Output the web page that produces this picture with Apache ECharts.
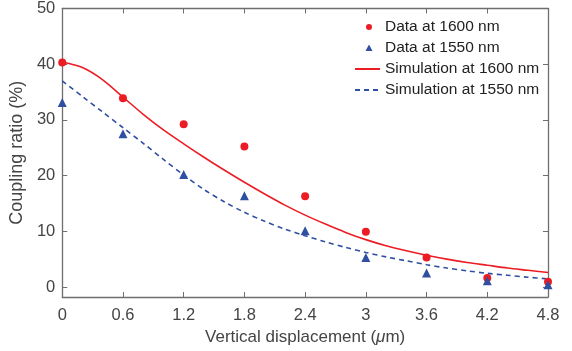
<!DOCTYPE html>
<html>
<head>
<meta charset="utf-8">
<script src="https://cdn.jsdelivr.net/npm/echarts@6/dist/echarts.min.js"></script>
<style>
html,body{margin:0;padding:0;background:#fff;}
#chart{width:572px;height:351px;}
</style>
</head>
<body>
<div id="chart"></div>
<script>
const xTicks = [0, 0.6, 1.2, 1.8, 2.4, 3, 3.6, 4.2, 4.8];
const yTicks = [0, 10, 20, 30, 40, 50];
const dataX = [0, 0.6, 1.2, 1.8, 2.4, 3.0, 3.6, 4.2, 4.8];
const data1600 = [40.3, 33.9, 29.2, 25.2, 16.3, 9.9, 5.3, 1.6, 0.95];
const data1550 = [33.1, 27.5, 20.2, 16.4, 10.1, 5.3, 2.5, 1.1, 0.4];
const simX = [0, 0.2, 0.4, 0.6, 0.8, 1.0, 1.2, 1.4, 1.6, 1.8, 2.0, 2.2, 2.4, 2.6, 2.8, 3.0, 3.2, 3.4, 3.6, 3.8, 4.0, 4.2, 4.4, 4.6, 4.8];
const sim1600 = [40.4, 39.4, 37.2, 34.1, 31.0, 28.2, 25.7, 23.3, 21.0, 18.8, 16.7, 14.7, 12.9, 11.3, 9.8, 8.5, 7.4, 6.5, 5.7, 5.0, 4.4, 3.9, 3.4, 3.0, 2.6];
const sim1550 = [37.0, 34.2, 31.4, 28.6, 25.8, 22.9, 20.1, 17.5, 15.3, 13.4, 11.8, 10.4, 9.2, 8.1, 7.1, 6.2, 5.4, 4.7, 4.0, 3.4, 2.9, 2.45, 2.1, 1.75, 1.45];
const seriesNames = ['Data at 1600 nm', 'Data at 1550 nm', 'Simulation at 1600 nm', 'Simulation at 1550 nm'];

const RED = '#ec1c24';
const BLUE = '#2f4fa0';
const FONT = 'Arial, "Liberation Sans", sans-serif';
const TXT = '#444444';
const AX = '#6e6e6e';

const zip = (xs, ys) => xs.map((x, i) => [x, ys[i]]);

const chart = echarts.init(document.getElementById('chart'), null, {renderer: 'canvas'});

const xBase = {
  type: 'value', min: 0, max: 4.8, interval: 0.6,
  axisLine: {show: true, onZero: false, lineStyle: {color: AX, width: 1.3}},
  axisTick: {show: true, inside: true, length: 5, lineStyle: {color: AX}, customValues: xTicks},
  splitLine: {show: false}
};
const yBase = {
  type: 'value', min: -1.8, max: 50,
  axisLine: {show: true, onZero: false, lineStyle: {color: AX, width: 1.3}},
  axisTick: {show: true, inside: true, length: 5, lineStyle: {color: AX}, customValues: yTicks},
  splitLine: {show: false}
};

const hiddenSym = {opacity: 0};

const option = {
  animation: false,
  backgroundColor: '#fff',
  textStyle: {fontFamily: FONT},
  grid: {left: 60, right: 24, top: 8, bottom: 54, containLabel: false},
  legend: {
    orient: 'vertical', left: 354, top: 19, padding: 0,
    itemWidth: 25, itemHeight: 14, itemGap: 5,
    textStyle: {fontFamily: FONT, fontSize: 15.5, color: '#222'},
    data: [
      {name: seriesNames[0], icon: 'path://M0 0 M25 14 M11 7 A3 3 0 1 1 17 7 A3 3 0 1 1 11 7 Z'},
      {name: seriesNames[1], icon: 'path://M0 0 M25 14 M14 3.5 L17.5 10 L10.5 10 Z'},
      {name: seriesNames[2], itemStyle: hiddenSym},
      {name: seriesNames[3], itemStyle: hiddenSym}
    ]
  },
  xAxis: [
    Object.assign({}, xBase, {
      position: 'bottom',
      axisLabel: {show: true, margin: 10, fontSize: 16.5, color: TXT, fontFamily: FONT, customValues: xTicks,
        formatter: v => String(Math.round(v * 10) / 10)},
      name: '{a|Vertical displacement (}{i|μ}{a|m)}',
      nameLocation: 'middle', nameGap: 32,
      nameTextStyle: {
        fontSize: 17, color: TXT, fontFamily: FONT,
        rich: {
          a: {fontSize: 17, color: TXT, fontFamily: FONT},
          i: {fontSize: 17, color: TXT, fontFamily: FONT, fontStyle: 'italic'}
        }
      }
    }),
    Object.assign({}, xBase, {position: 'top', axisLabel: {show: false}})
  ],
  yAxis: [
    Object.assign({}, yBase, {
      position: 'left',
      axisLabel: {show: true, margin: 7, fontSize: 16.5, color: TXT, fontFamily: FONT, customValues: yTicks},
      name: 'Coupling ratio (%)', nameLocation: 'middle', nameGap: 29, nameRotate: 90,
      nameTextStyle: {fontSize: 18, color: TXT, fontFamily: FONT}
    }),
    Object.assign({}, yBase, {position: 'right', axisLabel: {show: false}})
  ],
  series: [
    {
      name: seriesNames[2], type: 'line', data: zip(simX, sim1600), smooth: 0.3,
      showSymbol: false, symbol: 'none', z: 2,
      lineStyle: {color: RED, width: 1.6, type: 'solid'}, itemStyle: {color: RED}
    },
    {
      name: seriesNames[3], type: 'line', data: zip(simX, sim1550), smooth: 0.3,
      showSymbol: false, symbol: 'none', z: 2,
      lineStyle: {color: BLUE, width: 1.6, type: [5, 4]}, itemStyle: {color: BLUE}
    },
    {
      name: seriesNames[0], type: 'scatter', data: zip(dataX, data1600),
      symbol: 'circle', symbolSize: 8, z: 3, itemStyle: {color: RED, opacity: 1}
    },
    {
      name: seriesNames[1], type: 'scatter', data: zip(dataX, data1550),
      symbol: 'triangle', symbolSize: 9, z: 3, itemStyle: {color: BLUE, opacity: 1}
    }
  ]
};
chart.setOption(option);
</script>
</body>
</html>
